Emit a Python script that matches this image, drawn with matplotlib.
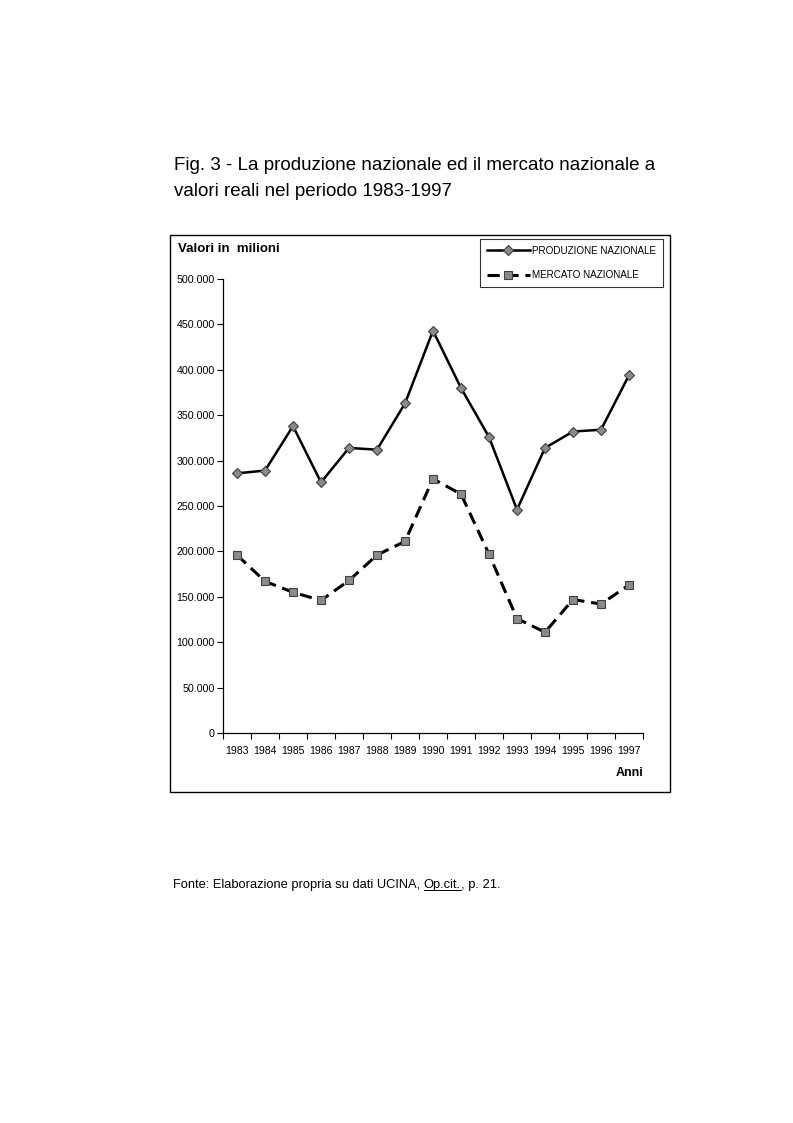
import matplotlib
matplotlib.use("Agg")
import matplotlib.pyplot as plt
from matplotlib.patches import Rectangle
from matplotlib.lines import Line2D

plt.rcParams['font.family'] = ['Liberation Sans', 'DejaVu Sans']

years = ["1983", "1984", "1985", "1986", "1987", "1988", "1989", "1990",
         "1991", "1992", "1993", "1994", "1995", "1996", "1997"]
produzione = [286, 289, 338, 276, 314, 312, 363, 443, 380, 326, 246, 314, 332, 334, 394]
mercato = [196, 167, 155, 146, 168, 196, 211, 280, 263, 197, 126, 111, 147, 142, 163]
produzione = [v * 1000 for v in produzione]
mercato = [v * 1000 for v in mercato]
yticks = [0, 50000, 100000, 150000, 200000, 250000, 300000, 350000, 400000, 450000, 500000]
ytick_labels = ["0", "50.000", "100.000", "150.000", "200.000", "250.000", "300.000",
                "350.000", "400.000", "450.000", "500.000"]

W, H = 793, 1123
fig = plt.figure(figsize=(W / 100, H / 100), dpi=100)

def fx(px):
    return px / W

def fy(py):
    return 1 - py / H

# chart frame
fig.patches.append(Rectangle((fx(170), fy(792)), fx(670) - fx(170), fy(235) - fy(792),
                             transform=fig.transFigure, fill=False, edgecolor='black', linewidth=1.0))

ax = fig.add_axes([fx(223), fy(733), fx(643) - fx(223), fy(279) - fy(733)])
x = list(range(len(years)))
ax.plot(x, produzione, color='black', linewidth=1.8, marker='D', markersize=5,
        markerfacecolor='#8a8a8a', markeredgecolor='#404040', markeredgewidth=0.8,
        label='PRODUZIONE NAZIONALE', zorder=3)
ax.plot(x, mercato, color='black', linewidth=2.2, linestyle=(0, (4, 2.2)), marker='s', markersize=5.3,
        markerfacecolor='#8a8a8a', markeredgecolor='#404040', markeredgewidth=0.8,
        label='MERCATO NAZIONALE', zorder=3)

ax.set_xlim(-0.5, len(years) - 0.5)
ax.set_ylim(0, 500000)
ax.set_yticks(yticks)
ax.set_yticklabels(ytick_labels, fontsize=7.7)
ax.set_xticks([i - 0.5 for i in range(len(years) + 1)])
ax.set_xticklabels([])
ax.set_xticks(x, minor=True)
ax.set_xticklabels(years, minor=True, fontsize=7.6)
ax.tick_params(axis='x', which='minor', length=0, pad=9)
ax.tick_params(axis='x', which='major', length=4, width=0.8, direction='out')
ax.tick_params(axis='y', length=4, width=0.8, direction='out', pad=2)
for s in ['top', 'right']:
    ax.spines[s].set_visible(False)
for s in ['left', 'bottom']:
    ax.spines[s].set_linewidth(0.9)
ax.patch.set_alpha(0)

fig.text(fx(178), fy(249), "Valori in  milioni", fontsize=9.5, fontweight='bold', va='center', ha='left')
fig.text(fx(643), fy(773), "Anni", fontsize=9, fontweight='bold', va='center', ha='right')

leg = fig.legend(loc='upper right', bbox_to_anchor=(fx(663), fy(239)), fontsize=7.1,
                 frameon=True, fancybox=False, edgecolor='black', handlelength=4.3,
                 borderpad=0.7, labelspacing=1.45, handletextpad=0.25, borderaxespad=0)
leg.get_frame().set_linewidth(0.8)

fig.text(fx(174), fy(166), "Fig. 3 - La produzione nazionale ed il mercato nazionale a",
         fontsize=13.5, va='center', ha='left')
fig.text(fx(174), fy(191), "valori reali nel periodo 1983-1997", fontsize=13.5, va='center', ha='left')

# footer
fs = 9.3
t1 = fig.text(fx(173), fy(885), "Fonte: Elaborazione propria su dati UCINA, ", fontsize=fs, va='center', ha='left')
fig.canvas.draw()
r = fig.canvas.get_renderer()
bb = t1.get_window_extent(r)
t2 = fig.text(bb.x1 / W, fy(885), "Op.cit.", fontsize=fs, va='center', ha='left')
bb2 = t2.get_window_extent(r)
fig.lines.append(Line2D([bb2.x0 / W, bb2.x1 / W], [(bb2.y0 + 1) / H, (bb2.y0 + 1) / H],
                        transform=fig.transFigure, color='black', linewidth=0.7))
fig.text(bb2.x1 / W, fy(885), ", p. 21.", fontsize=fs, va='center', ha='left')

fig.savefig("out.png", dpi=100)
